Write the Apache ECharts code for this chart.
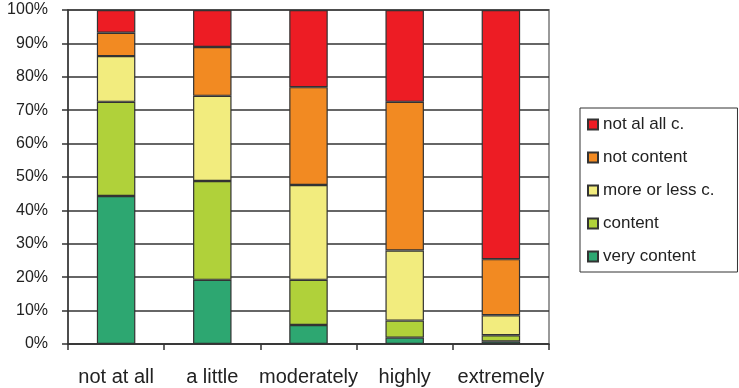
<!DOCTYPE html>
<html>
<head>
<meta charset="utf-8">
<script src="https://cdn.jsdelivr.net/npm/echarts@6/dist/echarts.min.js"></script>
<style>
  html, body { margin: 0; padding: 0; background: #fff; }
  #chart { width: 739px; height: 388px; }
</style>
</head>
<body>
<div id="chart"></div>
<script>
// Satisfaction by level, stacked to 100%
const categories = ['not at all', 'a little', 'moderately', 'highly', 'extremely'];
const veryContent   = [44.3, 19.2, 5.7, 1.9, 0.8];
const content       = [28.2, 29.6, 13.5, 5.1, 1.8];
const moreOrLess    = [13.7, 25.5, 28.4, 21.0, 6.0];
const notContent    = [7.0, 14.6, 29.3, 44.5, 16.8];
const notAtAll      = [6.8, 11.1, 23.1, 27.5, 74.6];
const seriesNames = ['very content', 'content', 'more or less c.', 'not content', 'not al all c.'];
const legendOrder = ['not al all c.', 'not content', 'more or less c.', 'content', 'very content'];

const colors = ['#2DA771', '#B0D13A', '#F2EC7E', '#F28A22', '#ED1C24'];
const values = [veryContent, content, moreOrLess, notContent, notAtAll];
const font = 'Liberation Sans, Arial, sans-serif';

const chart = echarts.init(document.getElementById('chart'), null, { renderer: 'canvas' });
chart.setOption({
  animation: false,
  backgroundColor: '#fff',
  textStyle: { fontFamily: font },
  grid: {
    left: 68, top: 10, right: 190, bottom: 44,
    show: true, borderColor: '#9a9a9a', borderWidth: 2, backgroundColor: '#fff'
  },
  legend: {
    orient: 'vertical',
    left: 580, top: 108,
    data: legendOrder,
    icon: 'rect',
    itemWidth: 10, itemHeight: 10,
    itemGap: 16,
    padding: [8, 23, 7, 7],
    borderColor: '#333', borderWidth: 1,
    textStyle: { fontSize: 17, color: '#222', fontFamily: font, lineHeight: 17 }
  },
  xAxis: {
    type: 'category',
    data: categories,
    axisLine: { lineStyle: { color: '#333', width: 1.5 } },
    axisTick: { show: true, length: 6, lineStyle: { color: '#333', width: 1.5 } },
    axisLabel: { interval: 0, fontSize: 20, color: '#222', margin: 23, fontFamily: font },
    splitLine: { show: false }
  },
  yAxis: {
    type: 'value',
    min: 0, max: 100, interval: 10,
    axisLine: { show: true, lineStyle: { color: '#333', width: 1.5 } },
    axisTick: { show: true, length: 6, lineStyle: { color: '#333', width: 1.5 } },
    axisLabel: { fontSize: 16, color: '#222', margin: 20, formatter: '{value}%', fontFamily: font },
    splitLine: { show: true, lineStyle: { color: '#333', width: 1.5 } }
  },
  series: seriesNames.map((name, i) => ({
    name: name,
    type: 'bar',
    stack: 'total',
    barWidth: '40%',
    data: values[i],
    itemStyle: { color: colors[i], borderColor: '#333', borderWidth: 1.2 }
  }))
});
</script>
</body>
</html>
